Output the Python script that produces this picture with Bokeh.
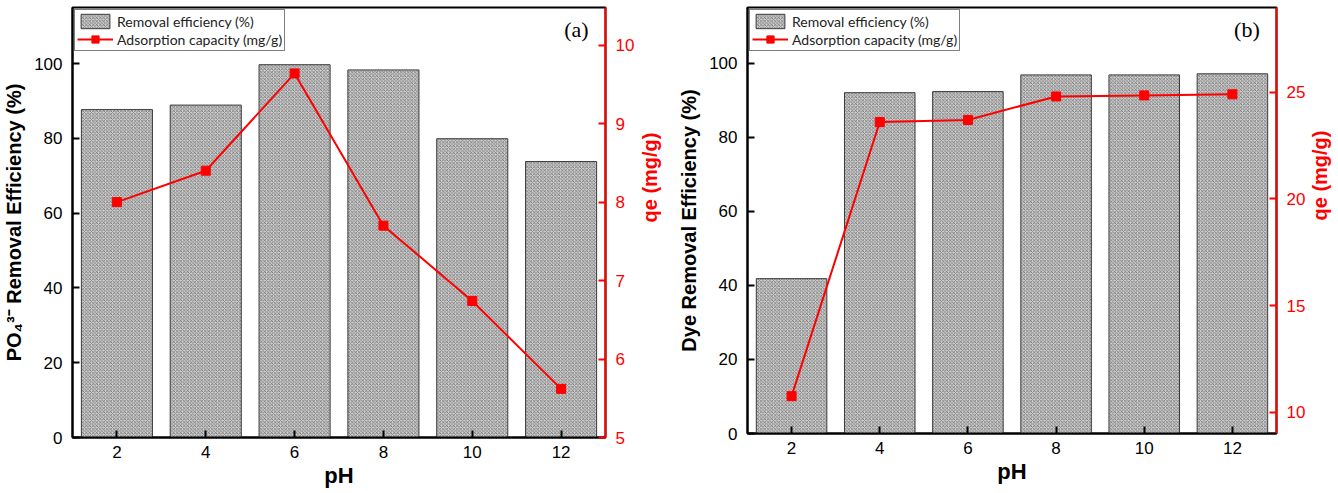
import math
from bokeh.plotting import figure
from bokeh.models import Range1d, LinearAxis, FixedTicker, Label, Legend, LegendItem
from bokeh.layouts import row
from bokeh.embed import file_html
from bokeh.resources import INLINE

pH = [2, 4, 6, 8, 10, 12]
removal_a = [87.7, 88.9, 99.7, 98.3, 79.9, 73.8]
qe_a = [8.0, 8.4, 9.64, 7.70, 6.74, 5.62]
removal_b = [41.8, 92.0, 92.3, 96.8, 96.8, 97.1]
qe_b = [10.75, 23.6, 23.7, 24.8, 24.85, 24.9]

left_ticks = [0, 20, 40, 60, 80, 100]
qe_ticks_a = [5, 6, 7, 8, 9, 10]
qe_ticks_b = [10, 15, 20, 25]

SANS = "Liberation Sans"


def panel(removal, qe, ylabel, qe_range, qe_ticks, tag, fw, fh, bl, bt, br, bb, rstand):
    p = figure(frame_width=fw, frame_height=fh, output_backend="svg", toolbar_location=None,
               x_range=Range1d(1, 13), y_range=Range1d(0, 115),
               min_border_left=bl, min_border_top=bt, min_border_right=br, min_border_bottom=bb)
    p.xgrid.visible = False
    p.ygrid.visible = False
    p.outline_line_color = "black"
    p.outline_line_width = 2
    p.extra_y_ranges = {"qe": Range1d(*qe_range)}

    bars = p.vbar(x=pH, top=removal, width=1.6, bottom=0,
                  fill_color="#cfcfcf", line_color="#3a3a3a", line_width=1,
                  hatch_pattern="x", hatch_scale=3.5, hatch_color="#5e5e5e", hatch_weight=0.7)
    ln = p.line(x=pH, y=qe, y_range_name="qe", line_color="red", line_width=2)
    mk = p.scatter(x=pH, y=qe, y_range_name="qe", marker="square", size=9,
                   fill_color="red", line_color="red")

    for ax in (p.xaxis[0], p.yaxis[0]):
        ax.axis_line_width = 2
        ax.axis_line_color = "black"
        ax.major_tick_in = 7
        ax.major_tick_out = 0
        ax.minor_tick_in = 0
        ax.minor_tick_out = 0
        ax.major_tick_line_width = 2
        ax.major_label_text_font = SANS
        ax.major_label_text_font_size = "17px"
        ax.major_label_text_color = "black"
        ax.axis_label_text_font = SANS
        ax.axis_label_text_font_style = "bold"
        ax.axis_label_text_color = "black"

    p.xaxis.ticker = FixedTicker(ticks=pH)
    p.xaxis.axis_label = "pH"
    p.xaxis.axis_label_text_font_size = "22px"
    p.xaxis.major_label_standoff = 8
    p.xaxis.axis_label_standoff = 2

    p.yaxis.ticker = FixedTicker(ticks=left_ticks)
    p.yaxis.axis_label = ylabel
    p.yaxis.axis_label_text_font_size = "20px"
    p.yaxis.major_label_standoff = 10
    p.yaxis.axis_label_standoff = 6

    rax = LinearAxis(y_range_name="qe", axis_label="qe (mg/g)",
                     ticker=FixedTicker(ticks=qe_ticks))
    rax.axis_line_color = "red"
    rax.axis_line_width = 2
    rax.major_tick_line_color = "red"
    rax.major_tick_line_width = 2
    rax.major_tick_in = 7
    rax.major_tick_out = 0
    rax.minor_tick_in = 0
    rax.minor_tick_out = 0
    rax.major_label_text_color = "red"
    rax.major_label_text_font = SANS
    rax.major_label_text_font_size = "17px"
    rax.major_label_standoff = 10
    rax.axis_label_text_color = "red"
    rax.axis_label_text_font = SANS
    rax.axis_label_text_font_style = "bold"
    rax.axis_label_text_font_size = "20px"
    rax.axis_label_standoff = rstand
    try:
        rax.axis_label_orientation = math.pi / 2
    except Exception:
        pass
    p.add_layout(rax, "right")

    legend = Legend(items=[LegendItem(label="Removal efficiency (%)", renderers=[bars]),
                           LegendItem(label="Adsorption capacity (mg/g)", renderers=[ln, mk])],
                    location="top_left")
    legend.margin = 2
    legend.padding = 2
    legend.spacing = 0
    legend.glyph_width = 36
    legend.glyph_height = 18
    legend.label_height = 18
    legend.label_standoff = 4
    legend.label_text_font = "Lato"
    legend.label_text_font_size = "14px"
    legend.label_text_color = "#222222"
    legend.border_line_color = "black"
    legend.border_line_width = 1
    legend.background_fill_alpha = 1
    p.add_layout(legend)

    p.add_layout(Label(x=12.62, y=109, text=tag, text_align="right", text_baseline="middle",
                       text_font="Liberation Serif", text_font_size="22px", text_color="black"))
    return p


pa = panel(removal_a, qe_a, "PO\u2084\u00b3\u207b Removal Efficiency (%)", (5, 10.48), qe_ticks_a,
           "(a)", 533, 430, 69, 7, 70, 45, 13)
pb = panel(removal_b, qe_b, "Dye Removal Efficiency (%)", (9.0, 28.97), qe_ticks_b,
           "(b)", 529, 426, 70, 5, 52, 53, 12)

layout = row(pa, pb)
open("out.html", "w").write(file_html(layout, INLINE))
